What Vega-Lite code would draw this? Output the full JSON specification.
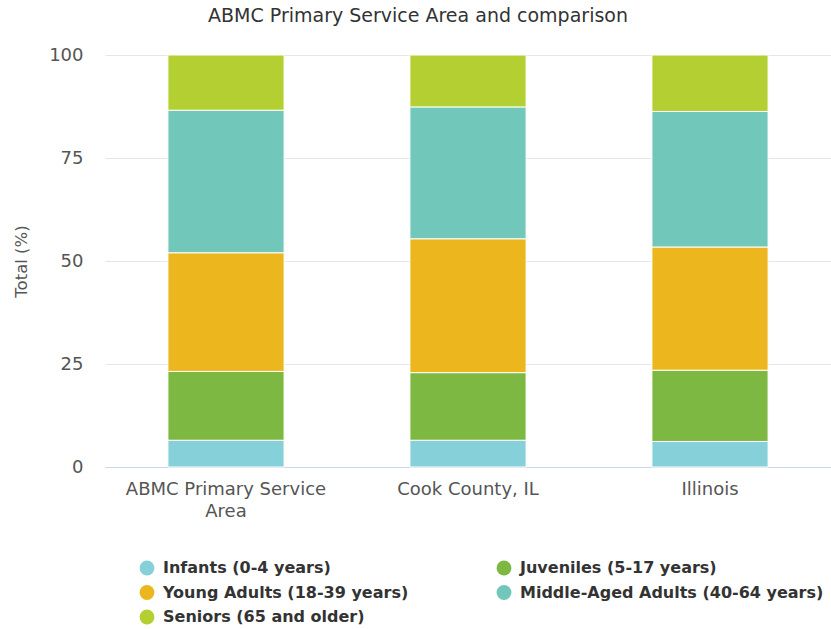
{
  "$schema": "https://vega.github.io/schema/vega-lite/v6.json",
  "width": 726,
  "height": 412,
  "autosize": {"type": "none"},
  "padding": {"left": 105, "top": 55, "right": 0, "bottom": 162},
  "background": "white",
  "config": {
    "font": "DejaVu Sans",
    "view": {"stroke": null}
  },
  "title": {
    "text": "ABMC Primary Service Area and comparison",
    "anchor": "middle",
    "dx": -50,
    "offset": 20,
    "fontSize": 19,
    "fontWeight": "normal",
    "color": "#333333"
  },
  "data": {
    "values": [
      {"area": "ABMC Primary Service Area", "group": "Infants (0-4 years)", "k": 1, "value": 6.5},
      {"area": "ABMC Primary Service Area", "group": "Juveniles (5-17 years)", "k": 2, "value": 16.7},
      {"area": "ABMC Primary Service Area", "group": "Young Adults (18-39 years)", "k": 3, "value": 28.8},
      {"area": "ABMC Primary Service Area", "group": "Middle-Aged Adults (40-64 years)", "k": 4, "value": 34.6},
      {"area": "ABMC Primary Service Area", "group": "Seniors (65 and older)", "k": 5, "value": 13.4},
      {"area": "Cook County, IL", "group": "Infants (0-4 years)", "k": 1, "value": 6.5},
      {"area": "Cook County, IL", "group": "Juveniles (5-17 years)", "k": 2, "value": 16.4},
      {"area": "Cook County, IL", "group": "Young Adults (18-39 years)", "k": 3, "value": 32.5},
      {"area": "Cook County, IL", "group": "Middle-Aged Adults (40-64 years)", "k": 4, "value": 32.0},
      {"area": "Cook County, IL", "group": "Seniors (65 and older)", "k": 5, "value": 12.6},
      {"area": "Illinois", "group": "Infants (0-4 years)", "k": 1, "value": 6.2},
      {"area": "Illinois", "group": "Juveniles (5-17 years)", "k": 2, "value": 17.3},
      {"area": "Illinois", "group": "Young Adults (18-39 years)", "k": 3, "value": 29.9},
      {"area": "Illinois", "group": "Middle-Aged Adults (40-64 years)", "k": 4, "value": 32.9},
      {"area": "Illinois", "group": "Seniors (65 and older)", "k": 5, "value": 13.7}
    ]
  },
  "mark": {"type": "bar", "stroke": "white", "strokeWidth": 1},
  "encoding": {
    "x": {
      "field": "area",
      "type": "nominal",
      "sort": null,
      "scale": {"paddingInner": 0.52, "paddingOuter": 0.26},
      "axis": {
        "title": null,
        "labelAngle": 0,
        "labelFontSize": 18,
        "labelColor": "#555555",
        "labelPadding": 13,
        "labelLimit": 400,
        "ticks": false,
        "domainColor": "#ccd6eb",
        "labelExpr": "datum.label == 'ABMC Primary Service Area' ? ['ABMC Primary Service', 'Area'] : datum.label",
        "labelLineHeight": 22
      }
    },
    "y": {
      "field": "value",
      "type": "quantitative",
      "stack": "zero",
      "scale": {"domain": [0, 100], "nice": false},
      "axis": {
        "title": "Total (%)",
        "titleFontSize": 16.5,
        "titleFontWeight": "normal",
        "titleColor": "#555555",
        "titleX": -76,
        "values": [0, 25, 50, 75, 100],
        "labelFontSize": 18,
        "labelColor": "#555555",
        "labelPadding": 22,
        "ticks": false,
        "domain": false,
        "gridColor": "#e6e6e6"
      }
    },
    "color": {
      "field": "group",
      "type": "nominal",
      "scale": {
        "domain": ["Infants (0-4 years)", "Young Adults (18-39 years)", "Seniors (65 and older)", "Juveniles (5-17 years)", "Middle-Aged Adults (40-64 years)"],
        "range": ["#86d0da", "#ebb61e", "#b3cf32", "#7cb842", "#71c7b9"]
      },
      "legend": {
        "title": null,
        "orient": "none",
        "legendX": 34,
        "legendY": 505,
        "columns": 2,
        "symbolType": "circle",
        "symbolSize": 220,
        "symbolStrokeWidth": 0,
        "labelFontSize": 16,
        "labelFontWeight": "bold",
        "labelColor": "#333333",
        "labelLimit": 400,
        "labelOffset": 8,
        "rowPadding": 8.5,
        "columnPadding": 87
      }
    },
    "order": {"field": "k", "type": "quantitative"}
  }
}
